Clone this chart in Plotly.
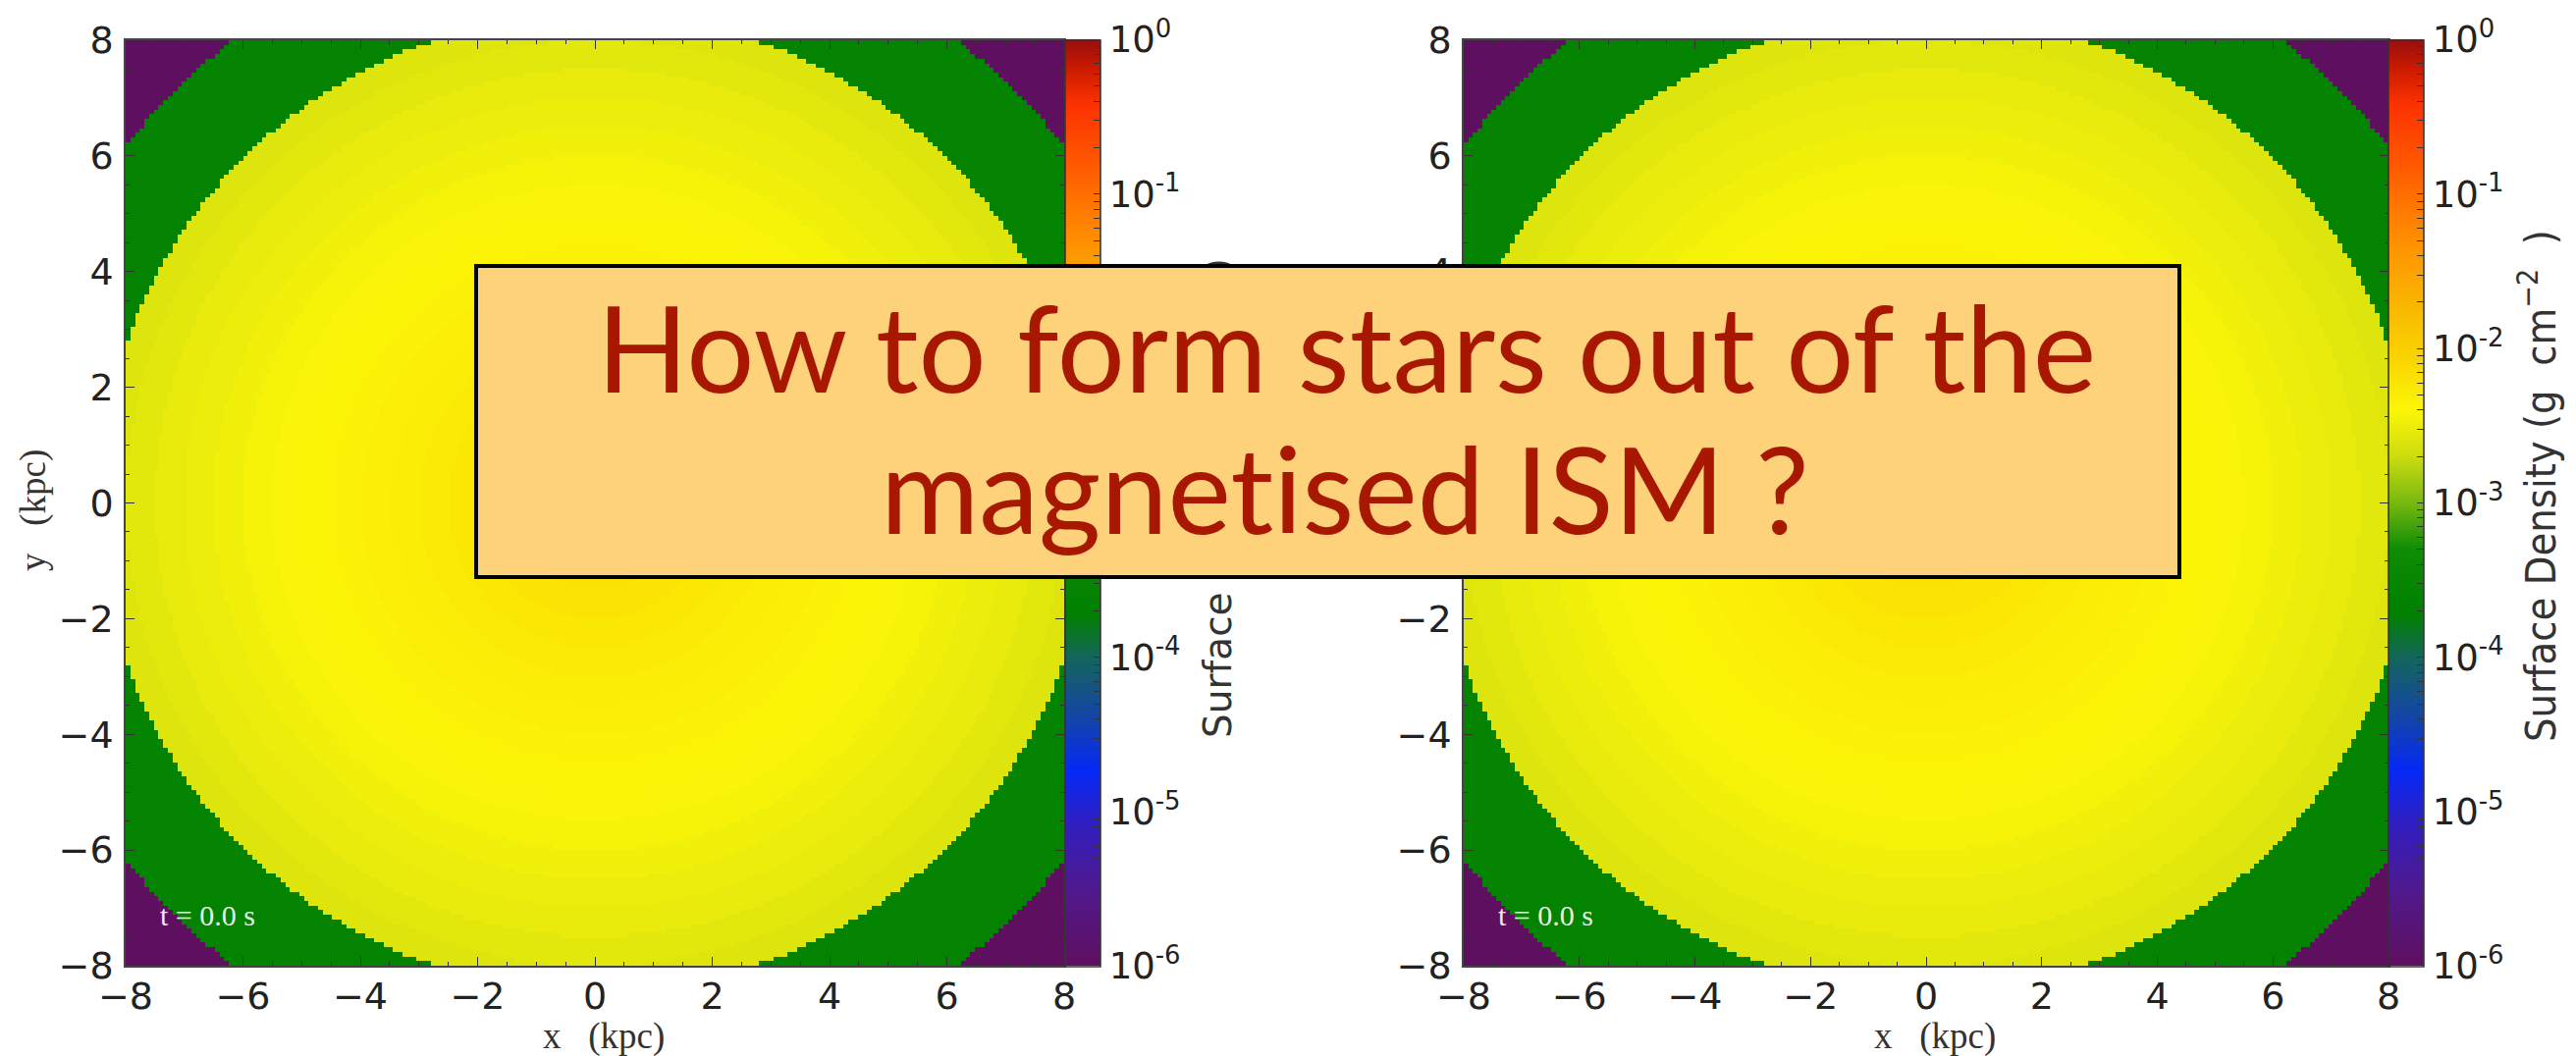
import numpy as np
import plotly.graph_objects as go

# ---------------- data ----------------
# radial surface-density profile of the initial disk (log10 g cm^-2), per radial bin (kpc)
r_edges = [0.0, 0.5, 1.0, 1.5, 2.0, 2.5, 3.0, 3.5, 4.0, 4.5, 5.0, 5.5, 6.0, 6.5, 7.0, 7.5, 8.0, 8.45, 10.1, 99.0]
log_sigma = [-2.18, -2.19, -2.21, -2.23, -2.25, -2.28, -2.31, -2.33, -2.36, -2.38, -2.41, -2.44, -2.47, -2.50, -2.53, -2.56, -2.60, -3.60, -6.00]

cbar_tickvals = [-6, -5, -4, -3, -2, -1, 0]
cbar_ticktext = ["10<sup>-6</sup>", "10<sup>-5</sup>", "10<sup>-4</sup>", "10<sup>-3</sup>",
                 "10<sup>-2</sup>", "10<sup>-1</sup>", "10<sup>0</sup>"]
axis_ticks = [-8, -6, -4, -2, 0, 2, 4, 6, 8]
time_label = "t = 0.0 s"
x_title = "x\u00a0\u00a0\u00a0(kpc)"
y_title = "y\u00a0\u00a0\u00a0(kpc)"
cbar_title_left = "Surface Density (g cm<sup>−2</sup>)"
cbar_title_right = "Surface Density (g\u00a0\u00a0cm<sup>−2</sup>\u00a0\u00a0)"
box_line1 = "How to form stars out of the"
box_line2 = "magnet\u200cised ISM ?"

# colour map sampled from the colour bar
colorscale = [
    [0.00, "rgb(95,15,95)"],
    [0.08, "rgb(80,25,140)"],
    [0.15, "rgb(50,30,190)"],
    [0.21, "rgb(5,40,245)"],
    [0.27, "rgb(20,70,165)"],
    [0.33, "rgb(20,100,95)"],
    [0.38, "rgb(0,128,0)"],
    [0.45, "rgb(15,140,5)"],
    [0.50, "rgb(120,185,15)"],
    [0.55, "rgb(205,220,15)"],
    [0.60, "rgb(252,246,8)"],
    [0.65, "rgb(250,215,0)"],
    [0.70, "rgb(248,190,0)"],
    [0.78, "rgb(255,145,0)"],
    [0.87, "rgb(255,85,0)"],
    [0.93, "rgb(252,50,0)"],
    [0.97, "rgb(200,25,0)"],
    [1.00, "rgb(150,15,15)"],
]

# ---------------- grid ----------------
N = 200
h = 16.0 / N
xc = np.linspace(-8 + h / 2, 8 - h / 2, N)
yc = np.linspace(-8 + h / 2, 8 - h / 2, N)
XX, YY = np.meshgrid(xc, yc)
RR = np.sqrt(XX ** 2 + YY ** 2)
idx = np.clip(np.searchsorted(np.array(r_edges), RR, side="right") - 1, 0, len(log_sigma) - 1)
Z = np.array(log_sigma)[idx]

W, H = 2624, 1076
TOP, BOT = 33, 976
def px(x):
    return x / W
def py(y):
    return 1 - y / H

minor_vals = []
for d in range(-6, 0):
    for k in range(2, 10):
        minor_vals.append(d + np.log10(k))
cb_vals = cbar_tickvals + minor_vals
cb_text = cbar_ticktext + [""] * len(minor_vals)

def cbar(xpix):
    return dict(
        x=px(xpix), xanchor="left", xpad=0, ypad=0,
        y=py((TOP + BOT) / 2), yanchor="middle", len=BOT - TOP + 1, lenmode="pixels",
        thickness=36, thicknessmode="pixels",
        outlinewidth=1.5, outlinecolor="#333",
        tickmode="array", tickvals=cb_vals, ticktext=cb_text,
        ticks="inside", ticklen=7, tickcolor="#333", tickwidth=1,
        tickfont=dict(family="DejaVu Sans", size=37, color="#222"),
    )

fig = go.Figure()
fig.add_trace(go.Heatmap(x=xc, y=yc, z=Z, zmin=-6, zmax=0, colorscale=colorscale,
                         colorbar=cbar(1077), xaxis="x", yaxis="y", hoverinfo="skip"))
fig.add_trace(go.Heatmap(x=xc, y=yc, z=Z, zmin=-6, zmax=0, colorscale=colorscale,
                         colorbar=cbar(2425), xaxis="x2", yaxis="y2", hoverinfo="skip"))

tick_text = [("−" + str(-v)) if v < 0 else str(v) for v in axis_ticks]

def ax(dom, anchor, standoff):
    return dict(domain=dom, anchor=anchor, range=[-8, 8], tickmode="array", tickvals=axis_ticks,
                ticktext=tick_text,
                ticks="inside", ticklen=9, tickcolor="#333", mirror="ticks",
                showline=True, linecolor="#444", linewidth=1.5, showgrid=False, zeroline=False,
                minor=dict(dtick=0.5, ticks="inside", ticklen=4, tickcolor="#333", showgrid=False),
                tickfont=dict(family="DejaVu Sans", size=38, color="#222"),
                ticklabelstandoff=standoff, automargin=False)

ydom = [py(BOT), py(TOP)]
fig.update_layout(
    width=W, height=H, margin=dict(l=0, r=0, t=0, b=0),
    paper_bgcolor="white", plot_bgcolor="white",
    xaxis=ax([px(120), px(1076)], "y", -3),
    yaxis=ax(ydom, "x", 3),
    xaxis2=ax([px(1483), px(2425)], "y2", -3),
    yaxis2=ax(ydom, "x2", 3),
    showlegend=False,
)

annotations = []
serif = dict(family="Liberation Serif", size=37, color="#333")
for xr, yr, ytx in (("x", "y", 26), ("x2", "y2", 1389)):
    annotations.append(dict(text=time_label, xref=xr + " domain", yref=yr + " domain",
                            x=0.035, y=0.055, xanchor="left", yanchor="middle", showarrow=False,
                            font=dict(family="Liberation Serif", size=30, color="rgba(255,255,255,0.92)")))
    annotations.append(dict(text=x_title, xref=xr + " domain", yref="paper", x=0.5, y=py(1048),
                            xshift=9, xanchor="center", yanchor="middle", showarrow=False, font=serif))
    annotations.append(dict(text=y_title, xref="paper", yref="paper", x=px(ytx), y=py(512),
                            xanchor="center", yanchor="middle", showarrow=False, textangle=-90,
                            font=serif))

# colour-bar titles
annotations.append(dict(text=cbar_title_left, xref="paper", yref="paper", x=px(1230), y=py(500),
                        xanchor="center", yanchor="middle", showarrow=False, textangle=-90,
                        font=dict(family="DejaVu Sans", size=39, color="#333")))
annotations.append(dict(text=cbar_title_right, xref="paper", yref="paper", x=px(2577), y=py(487),
                        xanchor="center", yanchor="middle", showarrow=False, textangle=-90,
                        font=dict(family="DejaVu Sans Condensed, DejaVu Sans", size=43, color="#333")))

# overlay box and its text
annotations.append(dict(text=" ", xref="paper", yref="paper", x=px(1344), y=py(421),
                        xanchor="center", yanchor="middle", showarrow=False,
                        width=1731, height=313, bgcolor="#FDD27B", bordercolor="#000",
                        borderwidth=4, borderpad=0))
annotations.append(dict(text=box_line1, xref="paper", yref="paper", x=px(1363), y=py(345),
                        xanchor="center", yanchor="middle", showarrow=False,
                        font=dict(family="Lato", size=122, color="#A81800")))
annotations.append(dict(text=box_line2, xref="paper", yref="paper", x=px(1362), y=py(489),
                        xanchor="center", yanchor="middle", showarrow=False,
                        font=dict(family="Lato", size=122, color="#A81800")))
fig.update_layout(annotations=annotations)

fig.write_html("out.html")
